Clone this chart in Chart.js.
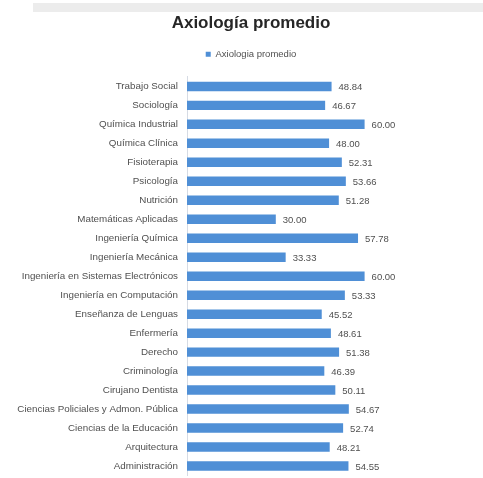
<!DOCTYPE html>
<html>
<head>
<meta charset="utf-8">
<script src="https://cdn.jsdelivr.net/npm/chart.js@4"></script>
<style>
  html, body { margin: 0; padding: 0; background: #ffffff; }
  #wrap { position: relative; width: 483px; height: 478px; overflow: hidden; }
  #band { position: absolute; left: 33px; top: 3px; width: 450px; height: 9px; background: #ececec; }
  canvas { position: absolute; left: 0; top: 0; }
</style>
</head>
<body>
<div id="wrap">
  <div id="band"></div>
  <canvas id="c" width="483" height="478"></canvas>
</div>
<script>
const categories = [
  "Trabajo Social",
  "Sociología",
  "Química Industrial",
  "Química Clínica",
  "Fisioterapia",
  "Psicología",
  "Nutrición",
  "Matemáticas Aplicadas",
  "Ingeniería Química",
  "Ingeniería Mecánica",
  "Ingeniería en Sistemas Electrónicos",
  "Ingeniería en Computación",
  "Enseñanza de Lenguas",
  "Enfermería",
  "Derecho",
  "Criminología",
  "Cirujano Dentista",
  "Ciencias Policiales y Admon. Pública",
  "Ciencias de la Educación",
  "Arquitectura",
  "Administración"
];
const seriesName = "Axiologia promedio";
const chartTitle = "Axiología promedio";
const values = [
  48.84, 46.67, 60.00, 48.00, 52.31, 53.66, 51.28, 30.00, 57.78, 33.33,
  60.00, 53.33, 45.52, 48.61, 51.38, 46.39, 50.11, 54.67, 52.74, 48.21, 54.55
];

const FONT = "'Liberation Sans', Arial, sans-serif";

const valueLabels = {
  id: 'valueLabels',
  afterDatasetsDraw(chart) {
    const ctx = chart.ctx;
    const meta = chart.getDatasetMeta(0);
    ctx.save();
    ctx.font = "9.5px " + FONT;
    ctx.fillStyle = "#505050";
    ctx.textAlign = "left";
    ctx.textBaseline = "middle";
    meta.data.forEach((bar, i) => {
      const v = chart.data.datasets[0].data[i];
      ctx.fillText(v.toFixed(2), bar.x + 7, bar.y + 1);
    });
    ctx.restore();
  }
};

const legendGap = {
  id: 'legendGap',
  afterInit(chart) {
    const lg = chart.legend;
    const origFit = lg.fit.bind(lg);
    lg.fit = function () { origFit(); this.height += 8; };
  }
};

new Chart(document.getElementById('c'), {
  type: 'bar',
  data: {
    labels: categories,
    datasets: [{
      label: seriesName,
      data: values,
      backgroundColor: '#4f8fd6',
      borderWidth: 0,
      barPercentage: 0.5,
      categoryPercentage: 1.0
    }]
  },
  options: {
    indexAxis: 'y',
    responsive: false,
    animation: false,
    devicePixelRatio: 1,
    layout: { padding: { left: 0, right: -19, top: 12, bottom: 2.5 } },
    plugins: {
      title: {
        display: true,
        text: chartTitle,
        color: '#262626',
        font: { family: FONT, size: 17, weight: 'bold' },
        padding: { top: 1, bottom: 8 }
      },
      legend: {
        display: true,
        labels: {
          color: '#505050',
          font: { family: FONT, size: 9.5 },
          boxWidth: 5,
          boxHeight: 5,
          padding: 8
        }
      },
      tooltip: { enabled: false }
    },
    scales: {
      x: {
        display: false,
        min: 0,
        max: 100
      },
      y: {
        afterFit(scale) {
          scale.width = 187;
          scale.paddingTop = 0;
          scale.paddingBottom = 0;
        },
        grid: { display: false, drawTicks: false },
        border: { display: true, color: '#d6dbe4', width: 1 },
        ticks: {
          color: '#505050',
          font: { family: FONT, size: 9.8 },
          padding: 9,
          autoSkip: false
        }
      }
    }
  },
  plugins: [valueLabels, legendGap]
});
</script>
</body>
</html>
